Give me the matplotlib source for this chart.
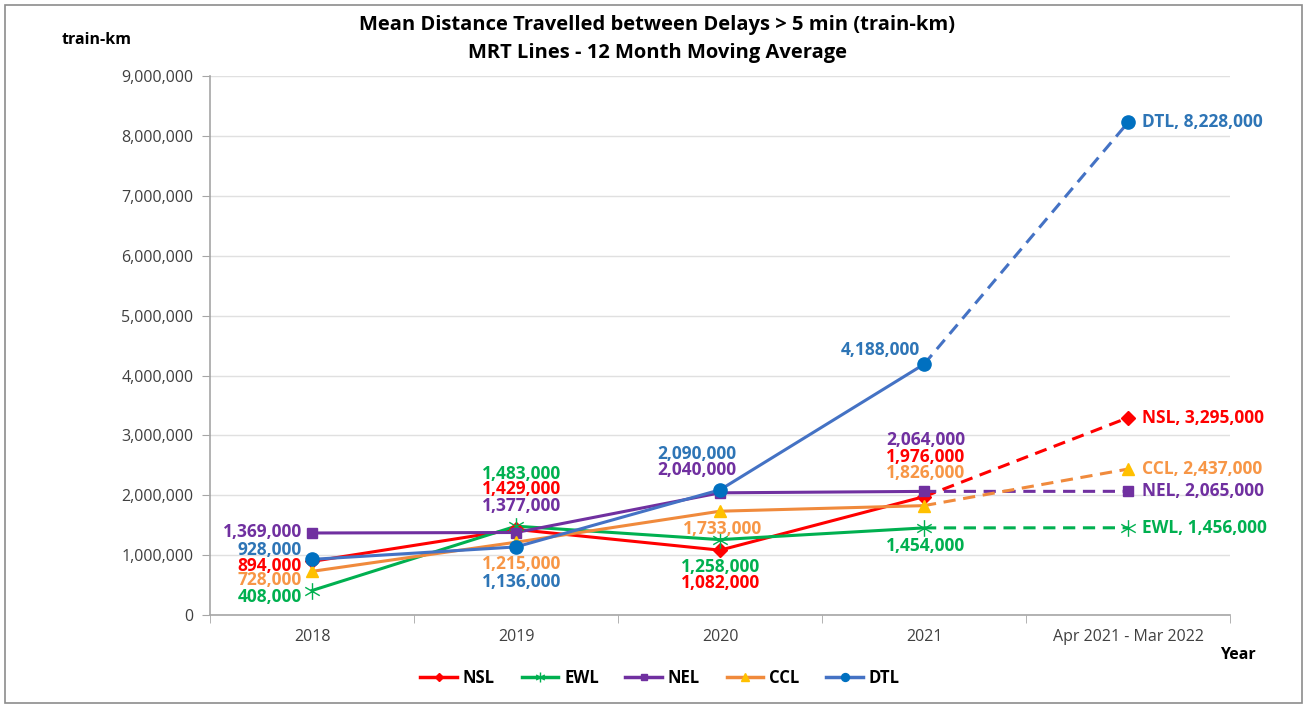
import numpy as np
import matplotlib
matplotlib.use("Agg")
import matplotlib.pyplot as plt
from matplotlib.patches import Rectangle
from matplotlib.path import Path
from matplotlib.ticker import FuncFormatter, FixedLocator

plt.rcParams["font.family"] = ["Open Sans", "DejaVu Sans"]

periods = ["2018", "2019", "2020", "2021", "Apr 2021 - Mar 2022"]
lines = ["NSL", "EWL", "NEL", "CCL", "DTL"]
nsl = [894000, 1429000, 1082000, 1976000, 3295000]
ewl = [408000, 1483000, 1258000, 1454000, 1456000]
nel = [1369000, 1377000, 2040000, 2064000, 2065000]
ccl = [728000, 1215000, 1733000, 1826000, 2437000]
dtl = [928000, 1136000, 2090000, 4188000, 8228000]
series = [nsl, ewl, nel, ccl, dtl]

# excel-style star: vertical bar plus an X
star = Path([(0, -1), (0, 1), (-0.87, -0.5), (0.87, 0.5), (-0.87, 0.5), (0.87, -0.5)],
            [Path.MOVETO, Path.LINETO, Path.MOVETO, Path.LINETO, Path.MOVETO, Path.LINETO])

line_col = {"NSL": "#FF0000", "EWL": "#00B050", "NEL": "#7030A0", "CCL": "#F08A3C", "DTL": "#4472C4"}
mark_col = {"NSL": "#FF0000", "EWL": "#00B050", "NEL": "#7030A0", "CCL": "#FFC000", "DTL": "#0070C0"}
text_col = {"NSL": "#FF0000", "EWL": "#00B050", "NEL": "#7030A0", "CCL": "#F79646", "DTL": "#2E75B6"}
markers = {"NSL": "D", "EWL": star, "NEL": "s", "CCL": "^", "DTL": "o"}
msize = {"NSL": 7, "EWL": 12, "NEL": 7.5, "CCL": 9, "DTL": 9.5}

# label offsets in pixels (dx, dy, ha) per line per period (last period handled separately)
offsets = {
    "NSL": [(-10, -5, "right"), (6, 40, "center"), (1, -33, "center"), (2, 40, "center")],
    "EWL": [(-10, -6, "right"), (6, 52, "center"), (1, -27, "center"), (2, -18, "center")],
    "NEL": [(-10, 1, "right"), (6, 27, "center"), (-23, 23, "center"), (2, 51, "center")],
    "CCL": [(-10, -9, "right"), (6, -22, "center"), (3, -18, "center"), (2, 33, "center")],
    "DTL": [(-10, 9, "right"), (6, -35, "center"), (-23, 36, "center"), (-44, 14, "center")],
}

fig = plt.figure(figsize=(13.07, 7.06), dpi=100)
ax = fig.add_axes([0.1607, 0.129, 0.7804, 0.763])
fig.patches.append(Rectangle((0.004, 0.004), 0.992, 0.989, transform=fig.transFigure,
                             fill=False, edgecolor="#8C8C8C", linewidth=1.2))

x = np.arange(len(periods))
for name, vals in zip(lines, series):
    ax.plot(x[:4], vals[:4], color=line_col[name], linewidth=2.2, zorder=3)
    ax.plot(x[3:], vals[3:], color=line_col[name], linewidth=2.2, linestyle=(0, (4, 2.5)), zorder=3)
    ax.plot(x, vals, linestyle="none", marker=markers[name], markersize=msize[name],
            color=mark_col[name], markeredgecolor=mark_col[name], markeredgewidth=1.0, zorder=4)
    for i in range(4):
        dx, dy, ha = offsets[name][i]
        ax.annotate(f"{vals[i]:,}", (x[i], vals[i]), xytext=(dx, dy), textcoords="offset pixels",
                    ha=ha, va="center", fontsize=12.5, fontweight="bold", color=text_col[name], zorder=5)
    ax.annotate(f"{name}, {vals[4]:,}", (x[4], vals[4]), xytext=(14, 0), textcoords="offset pixels",
                ha="left", va="center", fontsize=12.5, fontweight="bold", color=text_col[name], zorder=5)

ax.set_xlim(-0.5, 4.5)
ax.set_ylim(0, 9000000)
ax.set_yticks(np.arange(0, 9000001, 1000000))
ax.yaxis.set_major_formatter(FuncFormatter(lambda v, p: f"{int(v):,}"))
ax.set_xticks(x)
ax.set_xticklabels(periods)
ax.xaxis.set_minor_locator(FixedLocator(np.arange(-0.5, 4.6, 1)))
ax.tick_params(axis="x", which="major", length=0, pad=10, labelsize=11.5, labelcolor="#404040")
ax.tick_params(axis="x", which="minor", length=6, color="#A6A6A6", direction="out")
ax.tick_params(axis="y", length=6, color="#A6A6A6", labelsize=11.5, labelcolor="#404040", pad=6)
ax.grid(axis="y", color="#E0E0E0", linewidth=1)
ax.set_axisbelow(True)
for s in ["top", "right"]:
    ax.spines[s].set_visible(False)
for s in ["left", "bottom"]:
    ax.spines[s].set_color("#A6A6A6")
    ax.spines[s].set_linewidth(1.2)

fig.text(0.503, 0.964, "Mean Distance Travelled between Delays > 5 min (train-km)",
         ha="center", va="center", fontsize=14.5, fontweight="bold")
fig.text(0.503, 0.925, "MRT Lines - 12 Month Moving Average",
         ha="center", va="center", fontsize=14.5, fontweight="bold")
fig.text(0.074, 0.943, "train-km", ha="center", va="center", fontsize=11.5, fontweight="bold")
fig.text(0.947, 0.072, "Year", ha="center", va="center", fontsize=11.5, fontweight="bold")

handles = []
for name in lines:
    h, = ax.plot([], [], color=line_col[name], linewidth=2.5, marker=markers[name],
                 markersize=msize[name] * 0.6, markerfacecolor=mark_col[name], markeredgecolor=mark_col[name])
    handles.append(h)
fig.legend(handles, lines, loc="center", bbox_to_anchor=(0.505, 0.04), ncol=5, frameon=False,
           prop={"weight": "bold", "size": 12}, handlelength=2.2, columnspacing=1.6, handletextpad=0.35)

fig.savefig("out.png", dpi=100)
